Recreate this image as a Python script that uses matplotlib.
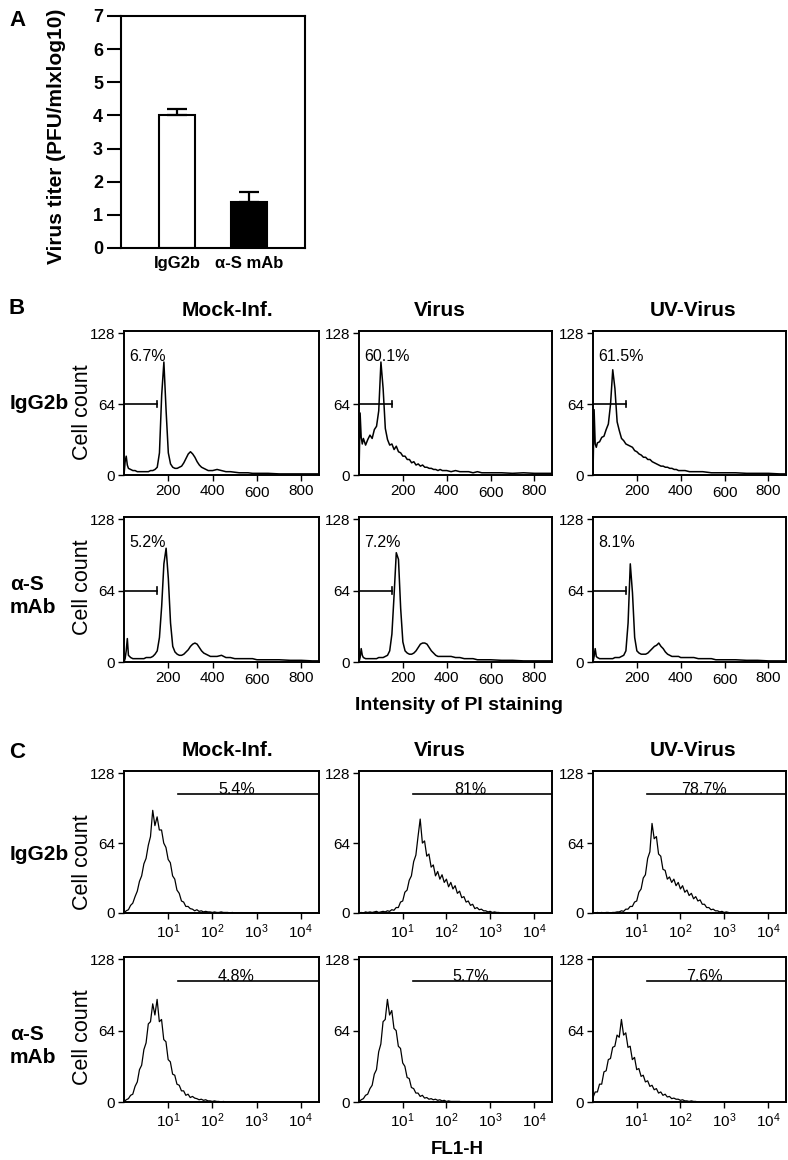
import matplotlib
matplotlib.use('Agg')
import matplotlib.pyplot as plt
from matplotlib.ticker import NullLocator
from matplotlib.transforms import ScaledTranslation

plt.rcParams['font.family'] = ['Liberation Sans', 'DejaVu Sans']
plt.rcParams['mathtext.fontset'] = 'custom'
plt.rcParams['mathtext.rm'] = 'Liberation Sans'

W, H = 788, 1160

# ---- panel A : virus titer ----
BAR_LABELS = ['IgG2b', 'α-S mAb']
BAR_VALUES = [4.0, 1.4]
BAR_ERR = [0.2, 0.3]
BAR_COLORS = ['white', 'black']

COL_TITLES = ['Mock-Inf.', 'Virus', 'UV-Virus']
ROW_LABELS = ['IgG2b', 'α-S\nmAb']

# ---- panel B : PI staining histograms (linear channel) ----
B_X = [0, 5, 10, 15,
       20, 30, 40, 50, 60, 70, 80, 90, 100, 110,
       120, 130, 140, 150, 160, 170, 180, 190, 200, 210,
       220, 230, 240, 250, 260, 270, 280, 290, 300, 310,
       320, 330, 340, 350, 360, 370, 380, 390, 400,
       420, 440, 460, 480, 500, 520, 540, 560, 580, 600,
       650, 700, 750, 800, 850, 880]

B_MOCK_IGG = [0, 12, 17, 9,
              6, 5, 4, 4, 3, 3, 3, 3, 3, 3,
              4, 4, 5, 7, 20, 72, 102, 58, 20, 10,
              7, 6, 6, 7, 8, 11, 15, 19, 21, 19,
              16, 12, 9, 7, 6, 5, 4, 4, 4,
              5, 4, 3, 3, 2.5, 2, 2, 2, 1.5, 1.5,
              1.5, 1, 1, 1, 1, 1]
B_VIRUS_IGG = [0, 56, 34, 28,
               33, 27, 32, 36, 33, 41, 44, 58, 102, 78,
               42, 32, 27, 28, 23, 26, 21, 20, 17, 17,
               14, 14, 11, 12, 9, 10, 8, 9, 7, 7,
               6, 6, 5, 5, 4, 5, 4, 4, 4,
               3, 4, 3, 3, 3, 2, 3, 2, 2, 2,
               2, 1.5, 2, 1.5, 1.5, 1.5]
B_UV_IGG = [0, 59, 28, 25,
            29, 30, 34, 35, 41, 46, 64, 95, 78, 48,
            40, 33, 31, 28, 27, 26, 25, 22, 21, 19,
            18, 16, 16, 14, 14, 12, 11, 10, 9, 8,
            8, 7, 7, 6, 6, 5, 5, 4, 4,
            4, 3, 3, 3, 3, 2.5, 2, 2, 2, 2,
            2, 1.5, 1.5, 1.5, 1, 1]
B_MOCK_MAB = [0, 3, 10, 21,
              6, 4, 3, 3, 3, 3, 3, 3, 4, 4,
              4, 5, 7, 10, 22, 50, 88, 102, 75, 35,
              14, 9, 7, 6, 6, 7, 9, 11, 14, 16,
              17, 16, 13, 10, 8, 7, 6, 5, 5,
              5, 6, 4, 4, 3, 3, 3, 3, 3, 2,
              2, 2, 1.5, 1.5, 1, 1]
B_VIRUS_MAB = [0, 4, 12, 6,
               4, 3, 3, 3, 3, 3, 3, 4, 4, 4,
               5, 6, 10, 25, 60, 98, 92, 48, 18, 10,
               8, 7, 7, 8, 10, 13, 16, 17, 17, 16,
               13, 10, 8, 6, 5, 5, 5, 5, 5,
               5, 4, 4, 3, 3, 3, 2, 2, 2, 2,
               1.5, 1.5, 1, 1, 1, 1]
B_UV_MAB = [0, 5, 12, 5,
            4, 3, 3, 3, 3, 3, 3, 3, 4, 4,
            4, 5, 6, 10, 35, 88, 62, 22, 10, 8,
            7, 7, 7, 8, 10, 12, 14, 15, 17, 14,
            12, 9, 7, 6, 5, 5, 5, 5, 4,
            4, 4, 4, 3, 3, 3, 3, 2, 2, 2,
            2, 1.5, 1.5, 1, 1, 1]
B_PCT = [['6.7%', '60.1%', '61.5%'], ['5.2%', '7.2%', '8.1%']]

# ---- panel C : FL1-H histograms (log channel) ----
C_X = [1.00, 1.12, 1.26, 1.41, 1.58, 1.78, 2.00, 2.24, 2.51, 2.82,
       3.16, 3.55, 3.98, 4.47, 5.01, 5.62, 6.31, 7.08, 7.94, 8.91,
       10.0, 11.2, 12.6, 14.1, 15.8, 17.8, 20.0, 22.4, 25.1, 28.2,
       31.6, 35.5, 39.8, 44.7, 50.1, 56.2, 63.1, 70.8, 79.4, 89.1,
       100, 112, 126, 141, 158, 178, 200, 224, 251, 282,
       316, 355, 398, 447, 501, 562, 631, 708, 794, 891,
       1000, 1122, 1259, 1413, 1585, 1778, 1995]

C_MOCK_IGG = [0, 2, 3, 7, 9, 15, 20, 29, 34, 45,
              50, 62, 70, 94, 80, 88, 76, 76, 64, 60,
              49, 46, 34, 31, 21, 18, 11, 10, 6, 6,
              4, 3.5, 2, 3, 1.5, 2, 1, 1.5, 1, 1,
              0.5, 1, 0.5, 0.5, 1, 0.5, 0.5, 0.5, 0, 0.5,
              0, 0, 0, 0, 0, 0, 0, 0, 0, 0,
              0, 0, 0, 0, 0, 0, 0]
C_VIRUS_IGG = [0, 0.5, 0, 1, 0.5, 1, 0.5, 1, 1.5, 0.5,
               1, 1.5, 1, 2, 1.5, 3, 2.5, 5, 5, 10,
               11, 19, 21, 30, 34, 47, 53, 70, 86, 64,
               66, 52, 54, 42, 44, 34, 38, 31, 35, 28,
               31, 24, 28, 22, 25, 18, 20, 14, 15, 10,
               11, 7, 8, 4, 5, 3, 3.5, 2, 2, 1,
               1.5, 0.5, 1, 0.5, 0.5, 0, 0]
C_UV_IGG = [0, 0, 0.5, 0, 0.5, 0, 0.5, 0.5, 0, 0.5,
            0.5, 1, 1, 2, 1.5, 3.5, 3.5, 6, 6, 10,
            11, 19, 22, 32, 35, 50, 56, 82, 68, 70,
            54, 52, 40, 39, 31, 33, 28, 31, 25, 28,
            22, 25, 19, 21, 16, 18, 13, 15, 11, 12,
            8, 8, 5, 5, 3, 3.5, 2, 2, 1, 1.5,
            0.5, 1, 0.5, 0, 0, 0, 0]
C_MOCK_MAB = [0, 2, 3, 6, 7, 14, 18, 29, 33, 47,
              53, 70, 72, 88, 78, 92, 72, 74, 56, 54,
              38, 36, 25, 24, 16, 15, 10, 10, 6, 7,
              4, 5, 3.5, 3, 2, 2.5, 1.5, 2, 1, 1,
              0.5, 1, 0.5, 0.5, 0, 0.5, 0, 0, 0, 0,
              0, 0, 0, 0, 0, 0, 0, 0, 0, 0,
              0, 0, 0, 0, 0, 0, 0]
C_VIRUS_MAB = [0, 2, 3, 6, 7, 12, 15, 25, 29, 45,
               52, 72, 74, 92, 78, 82, 66, 64, 50, 48,
               35, 32, 22, 21, 13, 12, 8, 8, 5, 6,
               3.5, 4, 2.5, 3, 2, 2.5, 1.5, 2, 1, 1.5,
               0.5, 1, 0.5, 0.5, 0.5, 0.5, 0.5, 0, 0, 0,
               0, 0, 0, 0, 0, 0, 0, 0, 0, 0,
               0, 0, 0, 0, 0, 0, 0]
C_UV_MAB = [4, 9, 9, 16, 16, 27, 28, 38, 39, 49,
            50, 60, 58, 74, 60, 62, 49, 50, 38, 40,
            29, 30, 23, 24, 18, 19, 14, 15, 11, 12,
            8, 9, 6, 7, 4.5, 5, 3, 3.5, 2.5, 2.5,
            1.5, 2, 1, 1, 0.5, 1, 0.5, 0.5, 0, 0,
            0, 0, 0, 0, 0, 0, 0, 0, 0, 0,
            0, 0, 0, 0, 0, 0, 0]
C_PCT = [['5.4%', '81%', '78.7%'], ['4.8%', '5.7%', '7.6%']]

B_CURVES = [[B_MOCK_IGG, B_VIRUS_IGG, B_UV_IGG], [B_MOCK_MAB, B_VIRUS_MAB, B_UV_MAB]]
C_CURVES = [[C_MOCK_IGG, C_VIRUS_IGG, C_UV_IGG], [C_MOCK_MAB, C_VIRUS_MAB, C_UV_MAB]]

# layout in pixels
COLS = [(124, 319), (359, 552), (593, 786)]
B_ROWS = [(331, 475), (517, 662)]
C_ROWS = [(771, 913), (957, 1102)]
TITLE_X = [227, 440, 693]

fig = plt.figure(figsize=(W / 100, H / 100), dpi=100)


def px_axes(left, top, right, bottom):
    return fig.add_axes([left / W, 1 - bottom / H, (right - left) / W, (bottom - top) / H])


def px_text(x, y, s, **kw):
    return fig.text(x / W, 1 - y / H, s, **kw)


def style_hist(ax):
    ax.set_ylim(0, 130)
    ax.set_yticks([0, 64, 128])
    ax.tick_params(direction='out', length=4.5, width=1, labelsize=11, pad=2)
    for s in ax.spines.values():
        s.set_linewidth(1.4)


# panel A
axA = px_axes(121, 16, 305, 248)
axA.bar([0, 1], BAR_VALUES, width=0.49, color=BAR_COLORS, edgecolor='black', linewidth=1.5,
        yerr=[[0, 0], BAR_ERR], capsize=7,
        error_kw=dict(elinewidth=1.6, capthick=1.6, ecolor='black'))
axA.set_xlim(-0.78, 1.78)
axA.set_ylim(0, 7)
axA.set_yticks(range(8))
axA.set_xticks([0, 1])
axA.set_xticklabels(BAR_LABELS, fontweight='bold', fontsize=12)
axA.tick_params(axis='x', length=0, pad=6)
axA.tick_params(axis='y', direction='out', length=10, width=1.5, labelsize=13, pad=3)
for lbl in axA.get_yticklabels():
    lbl.set_fontweight('bold')
for s in axA.spines.values():
    s.set_linewidth(1.5)
px_text(57, 136, 'Virus titer (PFU/mlxlog10)', rotation=90, ha='center', va='center',
        fontsize=15, fontweight='bold')

# panel letters
px_text(17, 20, 'A', ha='center', va='center', fontsize=16, fontweight='bold')
px_text(17, 308, 'B', ha='center', va='center', fontsize=16, fontweight='bold')
px_text(17, 753, 'C', ha='center', va='center', fontsize=16, fontweight='bold')

# panel B
for r, (top, bottom) in enumerate(B_ROWS):
    for c, (left, right) in enumerate(COLS):
        ax = px_axes(left, top, right, bottom)
        ax.plot(B_X, B_CURVES[r][c], color='black', lw=1.1)
        ax.plot([0, 150], [64, 64], color='black', lw=1.2)
        ax.plot([150, 150], [61, 67], color='black', lw=1.2)
        ax.text(25, 107, B_PCT[r][c], ha='left', va='center', fontsize=11.5)
        ax.set_xlim(0, 880)
        ax.set_xticks([200, 400, 600, 800])
        style_hist(ax)
        # the "600" label sits a little lower in the original
        lbl = ax.get_xticklabels()[2]
        lbl.set_transform(lbl.get_transform() + ScaledTranslation(0, -0.015, fig.dpi_scale_trans))

# panel C
for r, (top, bottom) in enumerate(C_ROWS):
    for c, (left, right) in enumerate(COLS):
        ax = px_axes(left, top, right, bottom)
        ax.plot(C_X, C_CURVES[r][c], color='black', lw=0.9)
        ax.set_xscale('log')
        ax.set_xlim(1, 2.6e4)
        ax.plot([17, 2.6e4], [108.5, 108.5], color='black', lw=1.2)
        ax.text(350, 108.5, C_PCT[r][c], ha='center', va='baseline', fontsize=11.5)
        ax.set_xticks([10, 100, 1000, 10000])
        ax.set_xticklabels([r'$\mathregular{10^{1}}$', r'$\mathregular{10^{2}}$',
                            r'$\mathregular{10^{3}}$', r'$\mathregular{10^{4}}$'])
        ax.xaxis.set_minor_locator(NullLocator())
        style_hist(ax)

# column titles
for x, t in zip(TITLE_X, COL_TITLES):
    px_text(x, 311, t, ha='center', va='center', fontsize=15, fontweight='bold')
    px_text(x, 750, t, ha='center', va='center', fontsize=15, fontweight='bold')

# row labels and y labels
for y, t in zip([404, 596, 854, 1046], ROW_LABELS * 2):
    px_text(10, y, t, ha='left', va='center', fontsize=15, fontweight='bold', linespacing=1.3)
for y in [412, 587, 862, 1037]:
    px_text(83, y, 'Cell count', rotation=90, ha='center', va='center', fontsize=15.5)

px_text(459, 706, 'Intensity of PI staining', ha='center', va='center', fontsize=14,
        fontweight='bold')
px_text(457, 1150, 'FL1-H', ha='center', va='center', fontsize=13.5, fontweight='bold')

fig.savefig('out.png', dpi=100)
